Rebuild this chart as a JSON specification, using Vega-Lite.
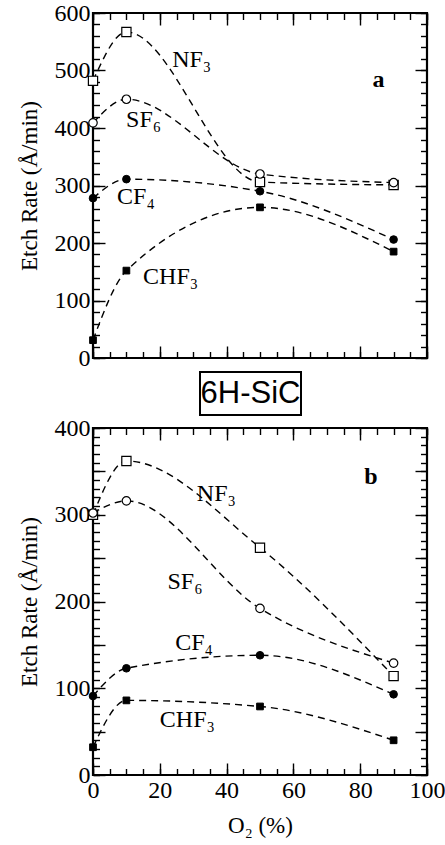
{
  "$schema": "https://vega.github.io/schema/vega-lite/v6.json",
  "padding": {"left": 16, "top": -1, "right": 5, "bottom": 5},
  "background": "white",
  "spacing": -2,
  "config": {
    "view": {"stroke": "black", "strokeWidth": 2.2},
    "axis": {
      "domain": false,
      "grid": false,
      "ticks": true,
      "tickColor": "black",
      "tickWidth": 1.4,
      "labelColor": "black",
      "labelFont": "Liberation Serif",
      "labelFontSize": 24,
      "labelFlush": false,
      "labelOverlap": false,
      "labelPadding": 3,
      "titleColor": "black",
      "titleFont": "Liberation Serif",
      "titleFontSize": 23,
      "titleFontWeight": "normal"
    },
    "text": {"color": "black"}
  },
  "datasets": {
    "rates_a": [
      {"gas": "NF3", "o2": 0, "rate": 482},
      {"gas": "NF3", "o2": 10, "rate": 567},
      {"gas": "NF3", "o2": 50, "rate": 306},
      {"gas": "NF3", "o2": 90, "rate": 301},
      {"gas": "SF6", "o2": 0, "rate": 409},
      {"gas": "SF6", "o2": 10, "rate": 450},
      {"gas": "SF6", "o2": 50, "rate": 320},
      {"gas": "SF6", "o2": 90, "rate": 305},
      {"gas": "CF4", "o2": 0, "rate": 278},
      {"gas": "CF4", "o2": 10, "rate": 311},
      {"gas": "CF4", "o2": 50, "rate": 290},
      {"gas": "CF4", "o2": 90, "rate": 206},
      {"gas": "CHF3", "o2": 0, "rate": 31},
      {"gas": "CHF3", "o2": 10, "rate": 152},
      {"gas": "CHF3", "o2": 50, "rate": 262},
      {"gas": "CHF3", "o2": 90, "rate": 185}
    ],
    "rates_b": [
      {"gas": "NF3", "o2": 0, "rate": 300},
      {"gas": "NF3", "o2": 10, "rate": 362},
      {"gas": "NF3", "o2": 50, "rate": 262},
      {"gas": "NF3", "o2": 90, "rate": 114},
      {"gas": "SF6", "o2": 0, "rate": 302},
      {"gas": "SF6", "o2": 10, "rate": 316},
      {"gas": "SF6", "o2": 50, "rate": 192},
      {"gas": "SF6", "o2": 90, "rate": 129},
      {"gas": "CF4", "o2": 0, "rate": 91},
      {"gas": "CF4", "o2": 10, "rate": 123},
      {"gas": "CF4", "o2": 50, "rate": 138},
      {"gas": "CF4", "o2": 90, "rate": 93},
      {"gas": "CHF3", "o2": 0, "rate": 32},
      {"gas": "CHF3", "o2": 10, "rate": 86},
      {"gas": "CHF3", "o2": 50, "rate": 79},
      {"gas": "CHF3", "o2": 90, "rate": 40}
    ],
    "names_a": [
      {"name": "NF₃", "o2": 23.7, "rate": 518},
      {"name": "SF₆", "o2": 9.9, "rate": 414},
      {"name": "CF₄", "o2": 7.2, "rate": 280},
      {"name": "CHF₃", "o2": 15, "rate": 141}
    ],
    "names_b": [
      {"name": "NF₃", "o2": 31.1, "rate": 324},
      {"name": "SF₆", "o2": 22.3, "rate": 223},
      {"name": "CF₄", "o2": 24.6, "rate": 152},
      {"name": "CHF₃", "o2": 20, "rate": 63.6}
    ],
    "panel_a": [{"tag": "a", "o2": 85.5, "rate": 483}],
    "panel_b": [{"tag": "b", "o2": 83.2, "rate": 344}]
  },
  "vconcat": [
    {
      "width": 334,
      "height": 345,
      "resolve": {"axis": {"x": "independent", "y": "independent"}},
      "layer": [
        {
          "data": {"name": "rates_a"},
          "mark": {"type": "line", "interpolate": "monotone", "strokeDash": [7, 5], "strokeWidth": 1.4, "color": "black"},
          "encoding": {
            "x": {"field": "o2", "type": "quantitative", "scale": {"domain": [0, 100], "nice": false},
              "axis": {"orient": "bottom", "title": null, "labels": false, "offset": -12, "tickSize": 12,
                "values": [0, 20, 40, 60, 80, 100]}},
            "y": {"field": "rate", "type": "quantitative", "scale": {"domain": [0, 600], "nice": false},
              "axis": {"orient": "left", "title": "Etch Rate (Å/min)", "titlePadding": 13, "ticks": false,
                "values": [0, 100, 200, 300, 400, 500, 600]}},
            "detail": {"field": "gas"}
          }
        },
        {
          "data": {"name": "rates_a"},
          "transform": [{"filter": "datum.gas === 'NF3' || datum.gas === 'SF6'"}],
          "mark": {"type": "point", "filled": true, "fill": "white", "stroke": "black", "strokeWidth": 1.2, "opacity": 1},
          "encoding": {
            "x": {"field": "o2", "type": "quantitative",
              "axis": {"orient": "bottom", "title": null, "labels": false, "offset": -6.5, "tickSize": 6.5,
                "values": [0,5,10,15,20,25,30,35,40,45,50,55,60,65,70,75,80,85,90,95,100]}},
            "y": {"field": "rate", "type": "quantitative",
              "axis": {"orient": "left", "title": null, "labels": false, "offset": -12, "tickSize": 12,
                "values": [0, 100, 200, 300, 400, 500, 600]}},
            "shape": {"field": "gas", "type": "nominal", "scale": {"domain": ["NF3", "SF6", "CF4", "CHF3"], "range": ["square", "circle", "circle", "square"]}, "legend": null},
            "size": {"field": "gas", "type": "nominal", "scale": {"domain": ["NF3", "SF6", "CF4", "CHF3"], "range": [85, 45, 68, 90]}, "legend": null}
          }
        },
        {
          "data": {"name": "rates_a"},
          "transform": [{"filter": "datum.gas === 'CF4' || datum.gas === 'CHF3'"}],
          "mark": {"type": "point", "filled": true, "fill": "black", "stroke": "black", "strokeWidth": 1, "opacity": 1},
          "encoding": {
            "x": {"field": "o2", "type": "quantitative",
              "axis": {"orient": "top", "title": null, "labels": false, "offset": -12, "tickSize": 12,
                "values": [0, 20, 40, 60, 80, 100]}},
            "y": {"field": "rate", "type": "quantitative",
              "axis": {"orient": "left", "title": null, "labels": false, "offset": -6.5, "tickSize": 6.5,
                "values": [0,20,40,60,80,100,120,140,160,180,200,220,240,260,280,300,320,340,360,380,400,420,440,460,480,500,520,540,560,580,600]}},
            "shape": {"field": "gas", "type": "nominal", "scale": {"domain": ["NF3", "SF6", "CF4", "CHF3"], "range": ["square", "circle", "circle", "square"]}, "legend": null},
            "size": {"field": "gas", "type": "nominal", "scale": {"domain": ["NF3", "SF6", "CF4", "CHF3"], "range": [85, 45, 68, 90]}, "legend": null}
          }
        },
        {
          "data": {"name": "names_a"},
          "mark": {"type": "text", "font": "Liberation Serif", "fontSize": 24, "align": "left", "baseline": "middle"},
          "encoding": {
            "x": {"field": "o2", "type": "quantitative",
              "axis": {"orient": "top", "title": null, "labels": false, "offset": -6.5, "tickSize": 6.5,
                "values": [0,5,10,15,20,25,30,35,40,45,50,55,60,65,70,75,80,85,90,95,100]}},
            "y": {"field": "rate", "type": "quantitative",
              "axis": {"orient": "right", "title": null, "labels": false, "offset": -12, "tickSize": 12,
                "values": [0, 100, 200, 300, 400, 500, 600]}},
            "text": {"field": "name"}
          }
        },
        {
          "data": {"name": "panel_a"},
          "mark": {"type": "text", "font": "Liberation Serif", "fontSize": 24, "fontWeight": "bold", "align": "center", "baseline": "middle"},
          "encoding": {
            "x": {"field": "o2", "type": "quantitative", "axis": null},
            "y": {"field": "rate", "type": "quantitative",
              "axis": {"orient": "right", "title": null, "labels": false, "offset": -6.5, "tickSize": 6.5,
                "values": [0,20,40,60,80,100,120,140,160,180,200,220,240,260,280,300,320,340,360,380,400,420,440,460,480,500,520,540,560,580,600]}},
            "text": {"field": "tag"}
          }
        }
      ]
    },
    {
      "spacing": 0,
      "hconcat": [
        {
          "width": 106,
          "height": 43,
          "view": {"stroke": null},
          "data": {"values": [{"t": ""}]},
          "mark": {"type": "text"},
          "encoding": {"text": {"field": "t"}}
        },
        {
          "width": 101,
          "height": 43,
          "view": {"stroke": "black", "strokeWidth": 2},
          "data": {"values": [{"t": "6H-SiC"}]},
          "mark": {"type": "text", "font": "Liberation Sans Narrow, Liberation Sans", "fontSize": 31, "align": "center", "baseline": "middle"},
          "encoding": {"text": {"field": "t"}}
        }
      ]
    },
    {
      "width": 334,
      "height": 347,
      "resolve": {"axis": {"x": "independent", "y": "independent"}},
      "layer": [
        {
          "data": {"name": "rates_b"},
          "mark": {"type": "line", "interpolate": "monotone", "strokeDash": [7, 5], "strokeWidth": 1.4, "color": "black"},
          "encoding": {
            "x": {"field": "o2", "type": "quantitative", "scale": {"domain": [0, 100], "nice": false},
              "axis": {"orient": "bottom", "title": "O₂ (%)", "titlePadding": 12, "ticks": false,
                "values": [0, 20, 40, 60, 80, 100]}},
            "y": {"field": "rate", "type": "quantitative", "scale": {"domain": [0, 400], "nice": false},
              "axis": {"orient": "left", "title": "Etch Rate (Å/min)", "titlePadding": 13, "ticks": false,
                "values": [0, 100, 200, 300, 400]}},
            "detail": {"field": "gas"}
          }
        },
        {
          "data": {"name": "rates_b"},
          "transform": [{"filter": "datum.gas === 'NF3' || datum.gas === 'SF6'"}],
          "mark": {"type": "point", "filled": true, "fill": "white", "stroke": "black", "strokeWidth": 1.2, "opacity": 1},
          "encoding": {
            "x": {"field": "o2", "type": "quantitative",
              "axis": {"orient": "bottom", "title": null, "labels": false, "offset": -12, "tickSize": 12,
                "values": [0, 20, 40, 60, 80, 100]}},
            "y": {"field": "rate", "type": "quantitative",
              "axis": {"orient": "left", "title": null, "labels": false, "offset": -12, "tickSize": 12,
                "values": [0, 50, 100, 150, 200, 250, 300, 350, 400]}},
            "shape": {"field": "gas", "type": "nominal", "scale": {"domain": ["NF3", "SF6", "CF4", "CHF3"], "range": ["square", "circle", "circle", "square"]}, "legend": null},
            "size": {"field": "gas", "type": "nominal", "scale": {"domain": ["NF3", "SF6", "CF4", "CHF3"], "range": [85, 45, 68, 90]}, "legend": null}
          }
        },
        {
          "data": {"name": "rates_b"},
          "transform": [{"filter": "datum.gas === 'CF4' || datum.gas === 'CHF3'"}],
          "mark": {"type": "point", "filled": true, "fill": "black", "stroke": "black", "strokeWidth": 1, "opacity": 1},
          "encoding": {
            "x": {"field": "o2", "type": "quantitative",
              "axis": {"orient": "bottom", "title": null, "labels": false, "offset": -6.5, "tickSize": 6.5,
                "values": [0,5,10,15,20,25,30,35,40,45,50,55,60,65,70,75,80,85,90,95,100]}},
            "y": {"field": "rate", "type": "quantitative",
              "axis": {"orient": "left", "title": null, "labels": false, "offset": -6.5, "tickSize": 6.5,
                "values": [0,10,20,30,40,50,60,70,80,90,100,110,120,130,140,150,160,170,180,190,200,210,220,230,240,250,260,270,280,290,300,310,320,330,340,350,360,370,380,390,400]}},
            "shape": {"field": "gas", "type": "nominal", "scale": {"domain": ["NF3", "SF6", "CF4", "CHF3"], "range": ["square", "circle", "circle", "square"]}, "legend": null},
            "size": {"field": "gas", "type": "nominal", "scale": {"domain": ["NF3", "SF6", "CF4", "CHF3"], "range": [85, 45, 68, 90]}, "legend": null}
          }
        },
        {
          "data": {"name": "names_b"},
          "mark": {"type": "text", "font": "Liberation Serif", "fontSize": 24, "align": "left", "baseline": "middle"},
          "encoding": {
            "x": {"field": "o2", "type": "quantitative",
              "axis": {"orient": "top", "title": null, "labels": false, "offset": -12, "tickSize": 12,
                "values": [0, 20, 40, 60, 80, 100]}},
            "y": {"field": "rate", "type": "quantitative",
              "axis": {"orient": "right", "title": null, "labels": false, "offset": -12, "tickSize": 12,
                "values": [0, 50, 100, 150, 200, 250, 300, 350, 400]}},
            "text": {"field": "name"}
          }
        },
        {
          "data": {"name": "panel_b"},
          "mark": {"type": "text", "font": "Liberation Serif", "fontSize": 24, "fontWeight": "bold", "align": "center", "baseline": "middle"},
          "encoding": {
            "x": {"field": "o2", "type": "quantitative",
              "axis": {"orient": "top", "title": null, "labels": false, "offset": -6.5, "tickSize": 6.5,
                "values": [0,5,10,15,20,25,30,35,40,45,50,55,60,65,70,75,80,85,90,95,100]}},
            "y": {"field": "rate", "type": "quantitative",
              "axis": {"orient": "right", "title": null, "labels": false, "offset": -6.5, "tickSize": 6.5,
                "values": [0,10,20,30,40,50,60,70,80,90,100,110,120,130,140,150,160,170,180,190,200,210,220,230,240,250,260,270,280,290,300,310,320,330,340,350,360,370,380,390,400]}},
            "text": {"field": "tag"}
          }
        }
      ]
    }
  ]
}
